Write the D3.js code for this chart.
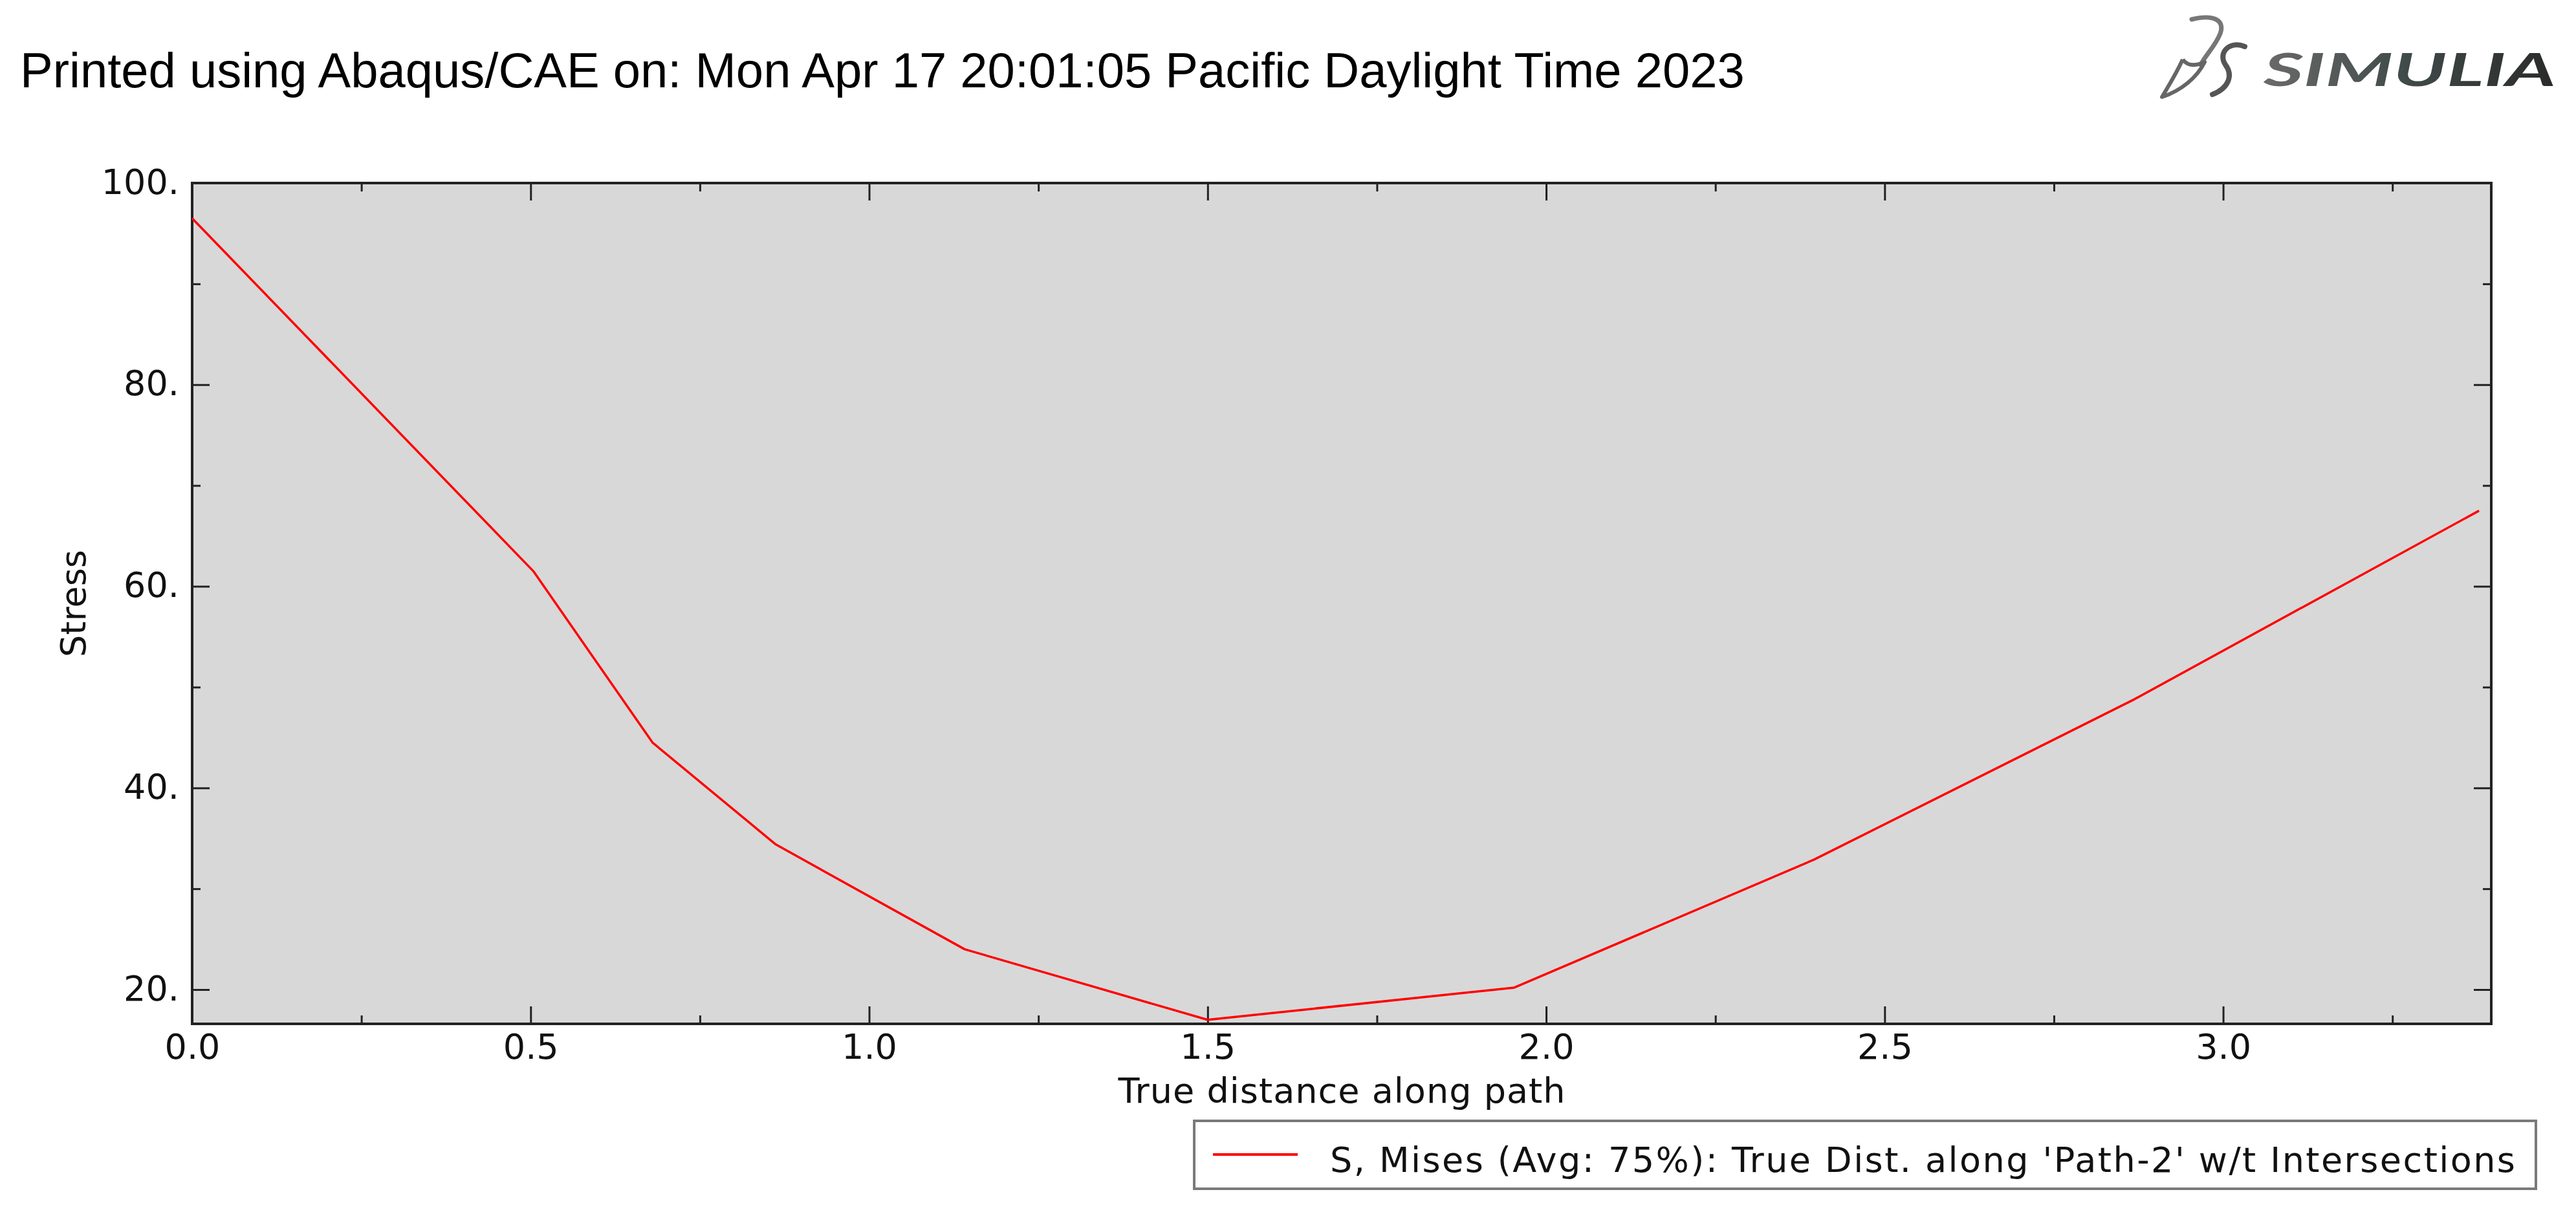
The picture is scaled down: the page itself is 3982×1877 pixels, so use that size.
<!DOCTYPE html>
<html>
<head>
<meta charset="utf-8">
<script src="https://cdn.jsdelivr.net/npm/d3@7"></script>
<style>
    body { margin: 0; background: #fff; }
    svg { display: block; }
    .tick text { font-family: "DejaVu Sans", Verdana, sans-serif; font-size: 54px; fill: #111; }
    .tick line { stroke: #222; stroke-width: 3px; }
</style>
</head>
<body>
<svg></svg>
<script>
// path result
const distance = [0, 0.504, 0.680, 0.862, 1.141, 1.500, 1.953, 2.396, 2.869, 3.378];
const stress = [96.5, 61.5, 44.5, 34.4, 24.0, 17.0, 20.2, 32.9, 48.8, 67.5];
const xMajor = [0, 0.5, 1.0, 1.5, 2.0, 2.5, 3.0];
const xMinor = [0.25, 0.75, 1.25, 1.75, 2.25, 2.75, 3.25];
const xLabels = ["0.0", "0.5", "1.0", "1.5", "2.0", "2.5", "3.0"];
const yMajor = [20, 40, 60, 80, 100];
const yMinor = [30, 50, 70, 90];
const yLabels = ["20.", "40.", "60.", "80.", "100."];
const xDomain = [0, 3.396];
const yDomain = [16.6, 100];
const title = "Printed using Abaqus/CAE on: Mon Apr 17 20:01:05 Pacific Daylight Time 2023";
const legendText = "S, Mises (Avg: 75%): True Dist. along 'Path-2' w/t Intersections";

const width = 3982;
const height = 1877;
const margin = {left: 297, top: 283, right: 131, bottom: 294};
const plotW = width - margin.left - margin.right;
const plotH = height - margin.top - margin.bottom;
const font = '"DejaVu Sans", Verdana, sans-serif';

let svg = d3.select("svg")
    .attr("width", width)
    .attr("height", height)
    .attr("viewBox", [0, 0, width, height]);

svg.append("text")
    .attr("x", 31)
    .attr("y", 135)
    .attr("font-family", '"Liberation Sans", Arial, sans-serif')
    .attr("font-size", 76)
    .attr("fill", "#000")
    .text(title);

// logo, top right
let logo = svg.append("g").classed("logo", true);
let grad = svg.append("defs").append("linearGradient")
    .attr("id", "logoGrad")
    .attr("x1", "0").attr("x2", "1").attr("y1", "0").attr("y2", "0");
grad.append("stop").attr("offset", "0").attr("stop-color", "#6a6a6a");
grad.append("stop").attr("offset", "0.5").attr("stop-color", "#3f4a48");
grad.append("stop").attr("offset", "1").attr("stop-color", "#2a2a2a");
logo.append("path")
    .attr("d", "M3388,30 C3420,22 3440,30 3432,52 C3424,72 3410,84 3402,100")
    .attr("fill", "none").attr("stroke", "#777").attr("stroke-width", 7).attr("stroke-linecap", "round");
logo.append("path")
    .attr("d", "M3374,92 C3362,118 3350,136 3342,150 C3372,140 3396,120 3408,96 C3390,104 3380,100 3374,92")
    .attr("fill", "none").attr("stroke", "#666").attr("stroke-width", 6).attr("stroke-linejoin", "round");
logo.append("path")
    .attr("d", "M3470,72 C3446,62 3428,82 3440,100 C3452,116 3446,136 3420,146")
    .attr("fill", "none").attr("stroke", "#555").attr("stroke-width", 8).attr("stroke-linecap", "round");
logo.append("text")
    .attr("x", 3499)
    .attr("y", 133)
    .attr("font-family", "Lato, 'Open Sans', sans-serif")
    .attr("font-weight", 700)
    .attr("font-style", "italic")
    .attr("font-size", 71)
    .attr("textLength", 452)
    .attr("lengthAdjust", "spacingAndGlyphs")
    .attr("fill", "url(#logoGrad)")
    .text("SIMULIA");

let g = svg.append("g")
    .attr("transform", "translate(" + margin.left + "," + margin.top + ")");

let x = d3.scaleLinear().domain(xDomain).range([0, plotW]);
let y = d3.scaleLinear().domain(yDomain).range([plotH, 0]);

g.append("rect")
    .attr("width", plotW)
    .attr("height", plotH)
    .attr("fill", "#d8d8d8");

// inward ticks on all four sides
function addAxis(axis, transform, cls) {
    let a = g.append("g")
        .classed(cls, true)
        .attr("transform", transform)
        .call(axis);
    a.select(".domain").remove();
    return a;
}
addAxis(d3.axisBottom(x).tickValues(xMajor).tickSize(-27).tickPadding(16)
    .tickFormat((d, i) => xLabels[i]), "translate(0," + plotH + ")", "xAxis");
addAxis(d3.axisBottom(x).tickValues(xMinor).tickSize(-13).tickFormat(""), "translate(0," + plotH + ")", "xMinor");
addAxis(d3.axisTop(x).tickValues(xMajor).tickSize(-27).tickFormat(""), "translate(0,0)", "xTop");
addAxis(d3.axisTop(x).tickValues(xMinor).tickSize(-13).tickFormat(""), "translate(0,0)", "xTopMinor");
addAxis(d3.axisLeft(y).tickValues(yMajor).tickSize(-27).tickPadding(20)
    .tickFormat((d, i) => yLabels[i]), "translate(0,0)", "yAxis");
addAxis(d3.axisLeft(y).tickValues(yMinor).tickSize(-13).tickFormat(""), "translate(0,0)", "yMinor");
addAxis(d3.axisRight(y).tickValues(yMajor).tickSize(-27).tickFormat(""), "translate(" + plotW + ",0)", "yRight");
addAxis(d3.axisRight(y).tickValues(yMinor).tickSize(-13).tickFormat(""), "translate(" + plotW + ",0)", "yRightMinor");

g.selectAll(".yAxis .tick text").attr("dy", "0.3em");

g.append("rect")
    .attr("width", plotW)
    .attr("height", plotH)
    .attr("fill", "none")
    .attr("stroke", "#222")
    .attr("stroke-width", 4);

let line = d3.line()
    .x((d, i) => x(distance[i]))
    .y(d => y(d));
g.append("path")
    .datum(stress)
    .attr("fill", "none")
    .attr("stroke", "#ff0000")
    .attr("stroke-width", 3.5)
    .attr("stroke-linejoin", "round")
    .attr("d", line);

g.append("text")
    .attr("x", plotW / 2)
    .attr("y", 1705 - margin.top)
    .attr("text-anchor", "middle")
    .attr("font-family", font)
    .attr("font-size", 54)
    .attr("textLength", 691)
    .attr("fill", "#111")
    .text("True distance along path");

g.append("text")
    .attr("transform", "translate(" + (132 - margin.left) + "," + plotH / 2 + ") rotate(-90)")
    .attr("text-anchor", "middle")
    .attr("font-family", font)
    .attr("font-size", 54)
    .attr("fill", "#111")
    .text("Stress");

// legend
let legend = svg.append("g").classed("legend", true);
legend.append("rect")
    .attr("x", 1846)
    .attr("y", 1733)
    .attr("width", 2074)
    .attr("height", 105)
    .attr("fill", "#fff")
    .attr("stroke", "#7a7a7a")
    .attr("stroke-width", 4);
legend.append("line")
    .attr("x1", 1875).attr("x2", 2006)
    .attr("y1", 1785).attr("y2", 1785)
    .attr("stroke", "#ff0000")
    .attr("stroke-width", 4);
legend.append("text")
    .attr("x", 2056)
    .attr("y", 1812)
    .attr("font-family", font)
    .attr("font-size", 54)
    .attr("textLength", 1832)
    .attr("fill", "#111")
    .text(legendText);
</script>
</body>
</html>
